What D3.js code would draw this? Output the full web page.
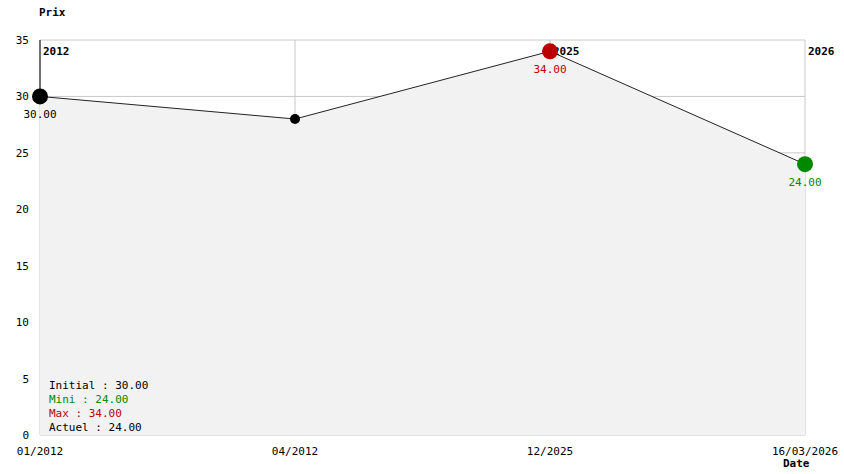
<!DOCTYPE html>
<html><head><meta charset="utf-8">
<script src="https://cdn.jsdelivr.net/npm/d3@7"></script>
<style>body{margin:0;background:#fff}text{font-family:"DejaVu Sans Mono",monospace;font-size:11px}</style>
</head><body><svg id="c" width="844" height="474"></svg>
<script>
var dates = ["01/2012", "04/2012", "12/2025", "16/03/2026"];
var prices = [30, 28, 34, 24];
var yearLabels = ["2012", null, "2025", "2026"];
var yTicks = [0, 5, 10, 15, 20, 25, 30, 35];
var summary = [["Initial : 30.00", "#000"], ["Mini : 24.00", "#008800"], ["Max : 34.00", "#bb0000"], ["Actuel : 24.00", "#000"]];

var svg = d3.select("#c");
var x = d3.scalePoint().domain(d3.range(dates.length)).range([40, 805]);
var y = d3.scaleLinear().domain([0, 35]).range([435, 40]);

// grid
svg.selectAll(".hg").data(yTicks).enter().append("line")
  .attr("x1", 40).attr("x2", 805).attr("y1", d => y(d)).attr("y2", d => y(d))
  .attr("stroke", "#c8c8c8");
svg.selectAll(".vg").data(d3.range(dates.length)).enter().append("line")
  .attr("x1", d => x(d)).attr("x2", d => x(d)).attr("y1", y(35)).attr("y2", y(0))
  .attr("stroke", "#c8c8c8");

// fill
var area = d3.area().x((d, i) => x(i)).y0(y(0)).y1(d => y(d));
svg.append("path").datum(prices).attr("d", area).attr("fill", "#f2f2f2");
svg.append("line").attr("x1", x(0)).attr("x2", x(0)).attr("y1", y(35)).attr("y2", y(prices[0])).attr("stroke", "#000");

svg.append("path").datum(prices).attr("d", d3.line().x((d, i) => x(i)).y(d => y(d)))
  .attr("fill", "none").attr("stroke", "#222");

// y ticks
svg.selectAll(".yt").data(yTicks).enter().append("text")
  .attr("x", 29).attr("y", d => y(d) + 4).attr("text-anchor", "end").text(d => d);
// x ticks
svg.selectAll(".xt").data(dates).enter().append("text")
  .attr("x", (d, i) => x(i)).attr("y", 455).attr("text-anchor", "middle").text(d => d);
svg.append("text").attr("x", 39).attr("y", 16).attr("font-weight", "bold").text("Prix");
svg.append("text").attr("x", 783).attr("y", 467).attr("font-weight", "bold").text("Date");

// year labels
svg.selectAll(".yl").data(yearLabels).enter().filter(d => d).append("text")
  .attr("x", (d, i) => x(yearLabels.indexOf(d)) + 3).attr("y", 55).attr("font-weight", "bold").text(d => d);

// points
var mn = d3.min(prices), mx = d3.max(prices);
function col(i) {
  if (i === prices.length - 1 || prices[i] === mn && i > 0) return "#008800";
  if (prices[i] === mx) return "#bb0000";
  return "#000";
}
svg.selectAll(".pt").data(prices).enter().append("circle")
  .attr("cx", (d, i) => x(i)).attr("cy", d => y(d))
  .attr("r", (d, i) => i === 1 ? 5 : 8).attr("fill", (d, i) => col(i));
svg.selectAll(".vl").data(prices).enter().filter((d, i) => i !== 1).append("text")
  .attr("x", (d, i, n) => { var k = prices.indexOf(d); return k === 0 ? x(k) : x(k); })
  .attr("y", d => y(d) + 22).attr("text-anchor", "middle")
  .attr("fill", d => col(prices.indexOf(d))).text(d => d.toFixed(2));

// summary
svg.selectAll(".sm").data(summary).enter().append("text")
  .attr("x", 49).attr("y", (d, i) => 389 + i * 14).attr("fill", d => d[1]).text(d => d[0]);
</script></body></html>
